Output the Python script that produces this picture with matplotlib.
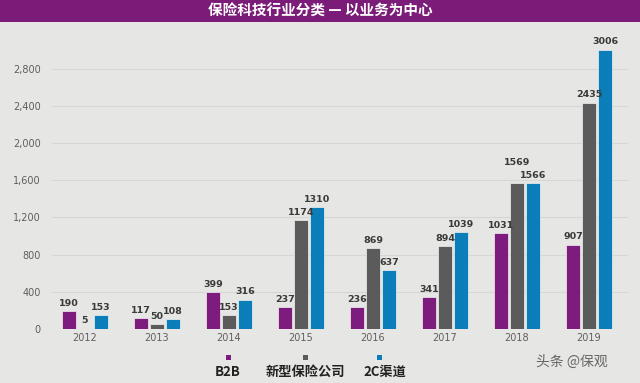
import numpy as np
import matplotlib
matplotlib.use('Agg')
from matplotlib import pyplot as plt
from matplotlib.patches import Rectangle

plt.rcParams['font.family'] = ['DejaVu Sans', 'Noto Sans CJK SC']

years = ['2012', '2013', '2014', '2015', '2016', '2017', '2018', '2019']
b2b = [190, 117, 399, 237, 236, 341, 1031, 907]
new_ins = [5, 50, 153, 1174, 869, 894, 1569, 2435]
to_c = [153, 108, 316, 1310, 637, 1039, 1566, 3006]
series_names = ['B2B', '新型保险公司', '2C渠道']
colors = ['#7d1b7e', '#5b5b5b', '#0b7db8']
yticks = [0, 400, 800, 1200, 1600, 2000, 2400, 2800]

bg = '#e6e6e4'
fig = plt.figure(figsize=(6.4, 3.83), dpi=100, facecolor=bg)

# title bar
fig.patches.append(Rectangle((0, 1 - 22/383), 1, 22/383, transform=fig.transFigure,
                             facecolor='#7a1c78', edgecolor='none'))
fig.text(0.5, 1 - 11/383, '保险科技行业分类 — 以业务为中心', ha='center', va='center',
         color='white', fontsize=10.5, fontweight='bold',
         family=['Noto Sans CJK SC', 'DejaVu Sans'])

ax = fig.add_axes([0.081, 0.141, 0.900, 0.740], facecolor=bg)
x = np.arange(len(years))
w = 0.185
off = 0.222
for i, (vals, c) in enumerate(zip([b2b, new_ins, to_c], colors)):
    pos = x + (i - 1) * off
    ax.bar(pos, vals, width=w, color=c, edgecolor='#f2f2f2', linewidth=0.5, zorder=3)
    for j, (p, v) in enumerate(zip(pos, vals)):
        lift = 35
        # 2018: the gray and blue labels would collide, so stagger them
        if i == 1 and j == 6:
            lift = 175
        ax.text(p, v + lift, str(v), ha='center', va='bottom', fontsize=6.8,
                fontweight='bold', color='#3a3a3a', zorder=4)

ax.set_xlim(-0.46, len(years) - 0.46)
ax.set_ylim(0, 3050)
ax.set_yticks(yticks)
ax.set_yticklabels([f'{t:,}' for t in yticks])
ax.set_xticks(x)
ax.set_xticklabels(years)
ax.tick_params(axis='both', length=0, labelsize=7, colors='#5e5e5e')
ax.tick_params(axis='y', pad=8)
ax.tick_params(axis='x', pad=3)
ax.grid(axis='y', color='#d6d6d4', linewidth=0.8, zorder=0)
for s in ax.spines.values():
    s.set_visible(False)

# legend
leg_x = [228, 305, 379]
txt_x = [228, 305, 385]
for name, c, lx, tx in zip(series_names, colors, leg_x, txt_x):
    fig.patches.append(Rectangle((lx/640 - 2.5/640, 1 - 360/383), 5/640, 5/383,
                                 transform=fig.transFigure, facecolor=c, edgecolor='none'))
    fig.text(tx/640, 1 - 372/383, name, ha='center', va='center',
             fontsize=9.5, fontweight='bold', color='#222222',
             family=['Noto Sans CJK SC', 'DejaVu Sans'])

fig.text(572/640, 1 - 362/383, '头条 @保观', ha='center', va='center', fontsize=10,
         color='#666666', family=['Noto Sans CJK SC', 'DejaVu Sans'])

fig.savefig('out.png', dpi=100, facecolor=bg)
